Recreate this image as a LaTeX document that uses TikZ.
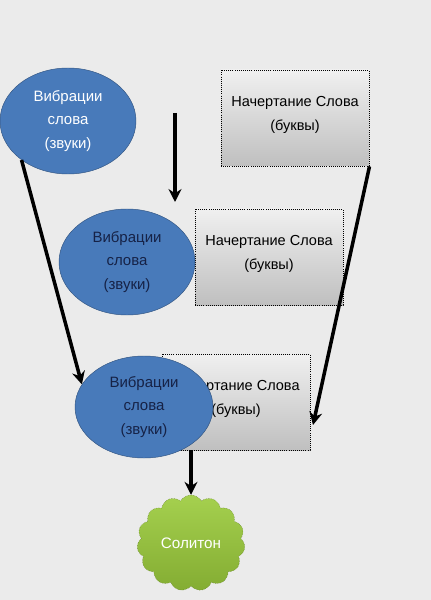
\documentclass[tikz,border=0pt]{standalone}
\usepackage{fontspec}
\setmainfont{Liberation Sans}
\usetikzlibrary{shapes.geometric, shapes.symbols, arrows.meta, calc}
\definecolor{bgray}{RGB}{235, 235, 235}
\definecolor{wblue}{RGB}{72, 122, 186}
\definecolor{wnavy}{RGB}{22, 34, 70}
\definecolor{sgreen}{RGB}{155, 203, 59}
\newdimen\px \px=0.03cm

\begin{document}
\begin{tikzpicture}[x=\px, y=-\px,
  vib/.style={ellipse, draw=wblue!70!black, fill=wblue, minimum width=136\px, minimum height=106\px, inner sep=0pt, align=center, font=\fontsize{12.8}{20}\selectfont},
  glyph/.style={draw=black, densely dotted, thick, top color=gray!12, bottom color=gray!50, minimum width=148\px, minimum height=96\px, inner sep=0pt, align=center, font=\fontsize{12.4}{20}\selectfont},
  flow/.style={-{Stealth[length=11pt, width=11pt]}, line width=3pt}
]
  \fill[bgray] (0,0) rectangle (431,600);
  \useasboundingbox (0,0) rectangle (431,600);
  % top row
  \node[vib, text=white] (vib1) at (68,121) {Вибрации\\слова\\(звуки)};
  \node[glyph] (glyph1) at (295,118) {Начертание Слова\\(буквы)\\[-12pt]};
  % middle row
  \node[glyph] (glyph2) at (269,257) {Начертание Слова\\(буквы)\\[-12pt]};
  \node[vib, text=wnavy] (vib2) at (127,262) {Вибрации\\слова\\(звуки)};
  % bottom row
  \node[glyph] (glyph3) at (236,402) {Начертание Слова\\(буквы)\\[-12pt]};
  \node[vib, text=wnavy, minimum width=138\px, minimum height=102\px] (vib3) at (144,407) {Вибрации\\слова\\(звуки)};
  \node[cloud, cloud puffs=15, cloud puff arc=120, aspect=1.1, draw=sgreen!60!black, densely dotted, top color=sgreen!90!white, bottom color=sgreen!85!black, minimum width=108\px, minimum height=96\px, inner sep=0pt, text=white, font=\fontsize{13}{16}\selectfont] (soliton) at (191,543) {Солитон};
  % arrows
  \coordinate (mtop) at (175,113);
  \coordinate (mbot) at (175,202);
  \coordinate (rtip) at (313,425);
  \draw[flow] (mtop) -- (mbot);
  \draw[flow] (vib1.220) -- (vib3.160);
  \draw[flow] (glyph1.south east) -- (rtip);
  \draw[flow] (soliton.north |- glyph3.south) -- (soliton.north);
\end{tikzpicture}
\end{document}
